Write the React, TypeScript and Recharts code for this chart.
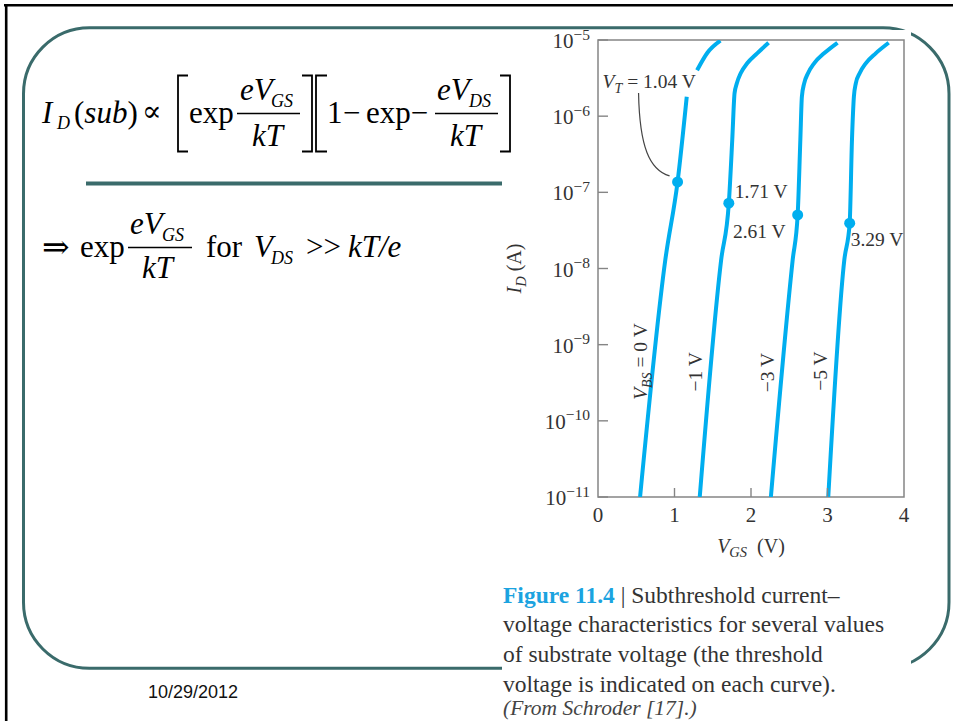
import React from "react";
import { ComposedChart, Line, Scatter, XAxis, YAxis, ReferenceArea, Label } from "recharts";

// Gate voltage and drain current axes
const VGS_TICKS = [0, 1, 2, 3, 4];
const ID_TICKS = [1e-11, 1e-10, 1e-9, 1e-8, 1e-7, 1e-6, 1e-5];

// Substrate bias of each curve (V) and the threshold voltage marked on it
const BODY_BIAS = [0, -1, -3, -5];
const THRESHOLDS = [1.04, 1.71, 2.61, 3.29];
const THRESHOLD_CURRENTS = [1.37e-7, 7.2e-8, 5.05e-8, 3.94e-8];

// I_D(V_GS) per substrate bias; the null splits the 0 V curve around its label
const CURVE_VBS0 = [
  { v: 0.55, i: 1e-11 },
  { v: 0.88, i: 1.3e-8 },
  { v: 1.04, i: 1.37e-7 },
  { v: 1.16, i: 1.8e-6 },
  { v: 1.22, i: null },
  { v: 1.295, i: 4.0e-6 },
  { v: 1.43, i: 6.8e-6 },
  { v: 1.6, i: 9.8e-6 },
];
const CURVE_VBS1 = [
  { v: 1.33, i: 1e-11 },
  { v: 1.61, i: 1.3e-8 },
  { v: 1.71, i: 7.2e-8 },
  { v: 1.755, i: 4.9e-7 },
  { v: 1.785, i: 2.0e-6 },
  { v: 1.815, i: 2.7e-6 },
  { v: 1.865, i: 3.66e-6 },
  { v: 1.95, i: 4.94e-6 },
  { v: 2.08, i: 6.68e-6 },
  { v: 2.23, i: 9.2e-6 },
];
const CURVE_VBS3 = [
  { v: 2.26, i: 1e-11 },
  { v: 2.545, i: 1.3e-8 },
  { v: 2.61, i: 5.05e-8 },
  { v: 2.645, i: 4.9e-7 },
  { v: 2.665, i: 1.8e-6 },
  { v: 2.695, i: 2.7e-6 },
  { v: 2.745, i: 3.66e-6 },
  { v: 2.825, i: 4.94e-6 },
  { v: 2.955, i: 6.68e-6 },
  { v: 3.13, i: 9.2e-6 },
];
const CURVE_VBS5 = [
  { v: 3.01, i: 1e-11 },
  { v: 3.22, i: 1.3e-8 },
  { v: 3.29, i: 3.94e-8 },
  { v: 3.32, i: 4.9e-7 },
  { v: 3.345, i: 1.8e-6 },
  { v: 3.37, i: 2.7e-6 },
  { v: 3.42, i: 3.66e-6 },
  { v: 3.5, i: 4.94e-6 },
  { v: 3.63, i: 6.68e-6 },
  { v: 3.8, i: 9.2e-6 },
];
const CURVES = [CURVE_VBS0, CURVE_VBS1, CURVE_VBS3, CURVE_VBS5];

// where the bias tags sit (data coordinates)
const TAG_V = [0.5425, 1.268, 2.203, 2.902];
const TAG_I = [6.0e-10, 4.4e-10, 4.3e-10, 4.5e-10];

const SERIF = "'Liberation Serif', 'Times New Roman', Times, serif";
const SANS = "'Liberation Sans', Arial, sans-serif";
const SYMBOL = "'DejaVu Serif', serif";
const CYAN = "#00aeef";
const FRAME = "#858585";
const INK = "#333";
const TEAL = "#3a6b6b";
const CHART_FONT = 19.5;
const TICK_FONT = 21;

const markers = THRESHOLDS.map((v, k) => ({ v, i: THRESHOLD_CURRENTS[k] }));
const tags = BODY_BIAS.map((b, k) => ({ v: TAG_V[k], i: TAG_I[k], bias: b }));

// text offsets of the threshold labels, relative to their dot
const MARKER_TEXT = [
  { dx: -75, dy: -94, anchor: "start" },
  { dx: 6, dy: -5, anchor: "start" },
  { dx: -12, dy: 23, anchor: "end" },
  { dx: 1, dy: 23, anchor: "start" },
];

const fmtVolts = (v: number) => `${v.toFixed(2)} V`;

const XTick = (props: any) => {
  const { x, y, payload } = props;
  const inner = payload.value > VGS_TICKS[0] && payload.value < VGS_TICKS[VGS_TICKS.length - 1];
  return (
    <g>
      {inner && <line x1={x} x2={x} y1={y} y2={y - 9} stroke={FRAME} strokeWidth={1.4} />}
      <text x={x} y={y + 25} textAnchor="middle" fontFamily={SERIF} fontSize={TICK_FONT} fill={INK}>
        {payload.value}
      </text>
    </g>
  );
};

const YTick = (props: any) => {
  const { x, y, payload } = props;
  const exp = Math.round(Math.log10(payload.value));
  return (
    <g>
      <line x1={x} x2={x + 10} y1={y} y2={y} stroke={FRAME} strokeWidth={1.4} />
      <text x={x - 8} y={y + 8} textAnchor="end" fontFamily={SERIF} fontSize={TICK_FONT} fill={INK}>
        10
        <tspan dy={-8.5} fontSize={15.5}>
          {exp < 0 ? `\u2212${-exp}` : exp}
        </tspan>
      </text>
    </g>
  );
};

const XTitle = ({ viewBox }: any) => (
  <text
    x={viewBox.x + viewBox.width / 2}
    y={viewBox.y + 56}
    textAnchor="middle"
    fontFamily={SERIF}
    fontSize={20}
    fill={INK}
  >
    <tspan fontStyle="italic">V</tspan>
    <tspan fontStyle="italic" fontSize={14.5} dy={4}>
      GS
    </tspan>
    <tspan dy={-4}>{"\u00a0\u00a0(V)"}</tspan>
  </text>
);

const YTitle = ({ viewBox }: any) => (
  <text
    transform={`translate(${viewBox.x + 21},${viewBox.y + viewBox.height / 2}) rotate(-90)`}
    textAnchor="middle"
    fontFamily={SERIF}
    fontSize={20}
    fill={INK}
  >
    <tspan fontStyle="italic">I</tspan>
    <tspan fontStyle="italic" fontSize={14.5} dy={5}>
      D
    </tspan>
    <tspan dy={-5}>{"\u00a0(A)"}</tspan>
  </text>
);

const renderMarker = (p: any) => {
  const k = THRESHOLDS.indexOf(p.payload.v);
  const t = MARKER_TEXT[k];
  const { cx, cy } = p;
  return (
    <g>
      {k === 0 && (
        <path
          d={`M${cx - 39},${cy - 89} C${cx - 38},${cy - 35} ${cx - 28},${cy - 12} ${cx - 8},${cy - 6}`}
          fill="none"
          stroke="#444"
          strokeWidth={1.2}
        />
      )}
      <circle cx={cx} cy={cy} r={5.5} fill={CYAN} />
      <text
        x={cx + t.dx}
        y={cy + t.dy}
        textAnchor={t.anchor}
        fontFamily={SERIF}
        fontSize={CHART_FONT}
        fill={INK}
      >
        {k === 0 ? (
          <>
            <tspan fontStyle="italic">V</tspan>
            <tspan fontStyle="italic" fontSize={14} dy={5}>
              T
            </tspan>
            <tspan dy={-5}>{` = ${fmtVolts(p.payload.v)}`}</tspan>
          </>
        ) : (
          fmtVolts(p.payload.v)
        )}
      </text>
    </g>
  );
};

const renderTag = (p: any) => {
  const { cx, cy, payload } = p;
  const volts = payload.bias < 0 ? `\u2212${-payload.bias} V` : `${payload.bias} V`;
  return (
    <text
      transform={`translate(${cx},${cy}) rotate(-90)`}
      y={7}
      textAnchor="middle"
      fontFamily={SERIF}
      fontSize={CHART_FONT}
      fill={INK}
    >
      {payload.bias === 0 ? (
        <>
          <tspan fontStyle="italic">V</tspan>
          <tspan fontStyle="italic" fontSize={14} dy={5}>
            BS
          </tspan>
          <tspan dy={-5}>{` = ${volts}`}</tspan>
        </>
      ) : (
        volts
      )}
    </text>
  );
};

function SubthresholdChart() {
  return (
    <ComposedChart width={420} height={560} margin={{ top: 20, right: 16, bottom: 0, left: 0 }}>
      <XAxis
        type="number"
        dataKey="v"
        domain={[0, 4]}
        ticks={VGS_TICKS}
        interval={0}
        allowDataOverflow
        axisLine={false}
        tickLine={false}
        tickSize={0}
        tickMargin={0}
        height={83}
        tick={<XTick />}
      >
        <Label content={XTitle} />
      </XAxis>
      <YAxis
        type="number"
        scale="log"
        domain={[1e-11, 1e-5]}
        ticks={ID_TICKS}
        interval={0}
        allowDataOverflow
        axisLine={false}
        tickLine={false}
        tickSize={0}
        tickMargin={0}
        width={98}
        tick={<YTick />}
      >
        <Label content={YTitle} />
      </YAxis>
      <ReferenceArea x1={0} x2={4} y1={1e-11} y2={1e-5} fill="none" fillOpacity={0} stroke={FRAME} strokeWidth={1.5} />
      {CURVES.map((c, k) => (
        <Line
          key={k}
          data={c}
          dataKey="i"
          type="monotone"
          stroke={CYAN}
          strokeWidth={4}
          dot={false}
          activeDot={false}
          connectNulls={false}
          isAnimationActive={false}
        />
      ))}
      <Scatter data={tags} dataKey="i" shape={renderTag} isAnimationActive={false} />
      <Scatter data={markers} dataKey="i" shape={renderMarker} isAnimationActive={false} />
    </ComposedChart>
  );
}

const CAPTION = [
  "voltage characteristics for several values",
  "of substrate voltage (the threshold",
  "voltage is indicated on each curve).",
];

export default function App() {
  const f = { fontFamily: SERIF, fill: "#000" } as const;
  const it = { ...f, fontStyle: "italic" } as const;
  return (
    <div style={{ position: "absolute", left: 0, top: 0, width: 953, height: 721, overflow: "hidden", background: "#fff" }}>
      <svg width={953} height={721} style={{ position: "absolute", left: 0, top: 0 }}>
        <line x1={4} x2={953} y1={5.3} y2={5.3} stroke="#000" strokeWidth={2.6} />
        <line x1={6.2} x2={6.2} y1={4} y2={721} stroke="#000" strokeWidth={2.6} />
        <rect x={23.5} y={27.8} width={925.5} height={640.5} rx={66} fill="none" stroke={TEAL} strokeWidth={3} />
        <line x1={86} x2={502} y1={183.5} y2={183.5} stroke={TEAL} strokeWidth={4} />

        {/* figure panel sits over the slide frame */}
        <rect x={502} y={30} width={409} height={691} fill="#fff" />

        {/* I_D(sub) ∝ [exp eVGS/kT][1 − exp − eVDS/kT] */}
        <text x={42} y={123} fontSize={31} {...it}>I</text>
        <text x={57} y={129} fontSize={18} {...it}>D</text>
        <text x={74} y={123} fontSize={31} {...f}>
          (<tspan fontStyle="italic">sub</tspan>)
        </text>
        <text x={142} y={121} fontSize={29} fontFamily={SYMBOL} fill="#000">∝</text>
        <g fill="none" stroke="#000" strokeWidth={1.8}>
          <path d="M188,75.5 H178 V151.5 H188" />
          <path d="M302,75.5 H312 V151.5 H302" />
          <path d="M327,75.5 H316 V151.5 H327" />
          <path d="M500,75.5 H510 V151.5 H500" />
        </g>
        <text x={189} y={123} fontSize={31} {...f}>exp</text>
        <line x1={237} x2={300} y1={113.5} y2={113.5} stroke="#000" strokeWidth={1.3} />
        <text x={240} y={100} fontSize={31} {...it}>eV</text>
        <text x={271} y={107} fontSize={18} {...it}>GS</text>
        <text x={252} y={146} fontSize={31} {...it}>kT</text>
        <text x={327} y={123} fontSize={31} {...f}>1</text>
        <text x={343} y={123} fontSize={31} {...f}>{"\u2212"}</text>
        <text x={366} y={123} fontSize={31} {...f}>{"exp\u2212"}</text>
        <line x1={435} x2={498} y1={113.5} y2={113.5} stroke="#000" strokeWidth={1.3} />
        <text x={437} y={100} fontSize={31} {...it}>eV</text>
        <text x={469} y={107} fontSize={18} {...it}>DS</text>
        <text x={450} y={146} fontSize={31} {...it}>kT</text>

        {/* ⇒ exp eVGS/kT for VDS >> kT/e */}
        <text x={42} y={258} fontSize={33} fontFamily={SYMBOL} fill="#000">⇒</text>
        <text x={80} y={257} fontSize={31} {...f}>exp</text>
        <line x1={128} x2={192} y1={247.5} y2={247.5} stroke="#000" strokeWidth={1.3} />
        <text x={130} y={234} fontSize={31} {...it}>eV</text>
        <text x={162} y={241} fontSize={18} {...it}>GS</text>
        <text x={142} y={278} fontSize={31} {...it}>kT</text>
        <text x={206} y={257} fontSize={31} {...f}>for</text>
        <text x={254} y={257} fontSize={31} {...it}>V</text>
        <text x={271} y={264} fontSize={18} {...it}>DS</text>
        <text x={306} y={257} fontSize={31} {...f}>{">>"}</text>
        <text x={348} y={257} fontSize={31} {...it}>kT/e</text>

        <text x={148} y={698} fontFamily={SANS} fontSize={18} fill="#111">10/29/2012</text>

        <text x={503} y={603} fontFamily={SERIF} fontSize={23.5} fill={INK}>
          <tspan fontWeight="bold" fill="#1ba3e0">Figure 11.4</tspan>
          <tspan>{" | Subthreshold current\u2013"}</tspan>
        </text>
        {CAPTION.map((line, k) => (
          <text key={k} x={503} y={632 + k * 30} fontFamily={SERIF} fontSize={23.5} fill={INK}>
            {line}
          </text>
        ))}
        <text x={503} y={714.5} fontFamily={SERIF} fontSize={21.5} fontStyle="italic" fill="#444">
          (From Schroder [17].)
        </text>
      </svg>
      <div style={{ position: "absolute", left: 500, top: 20 }}>
        <SubthresholdChart />
      </div>
    </div>
  );
}
